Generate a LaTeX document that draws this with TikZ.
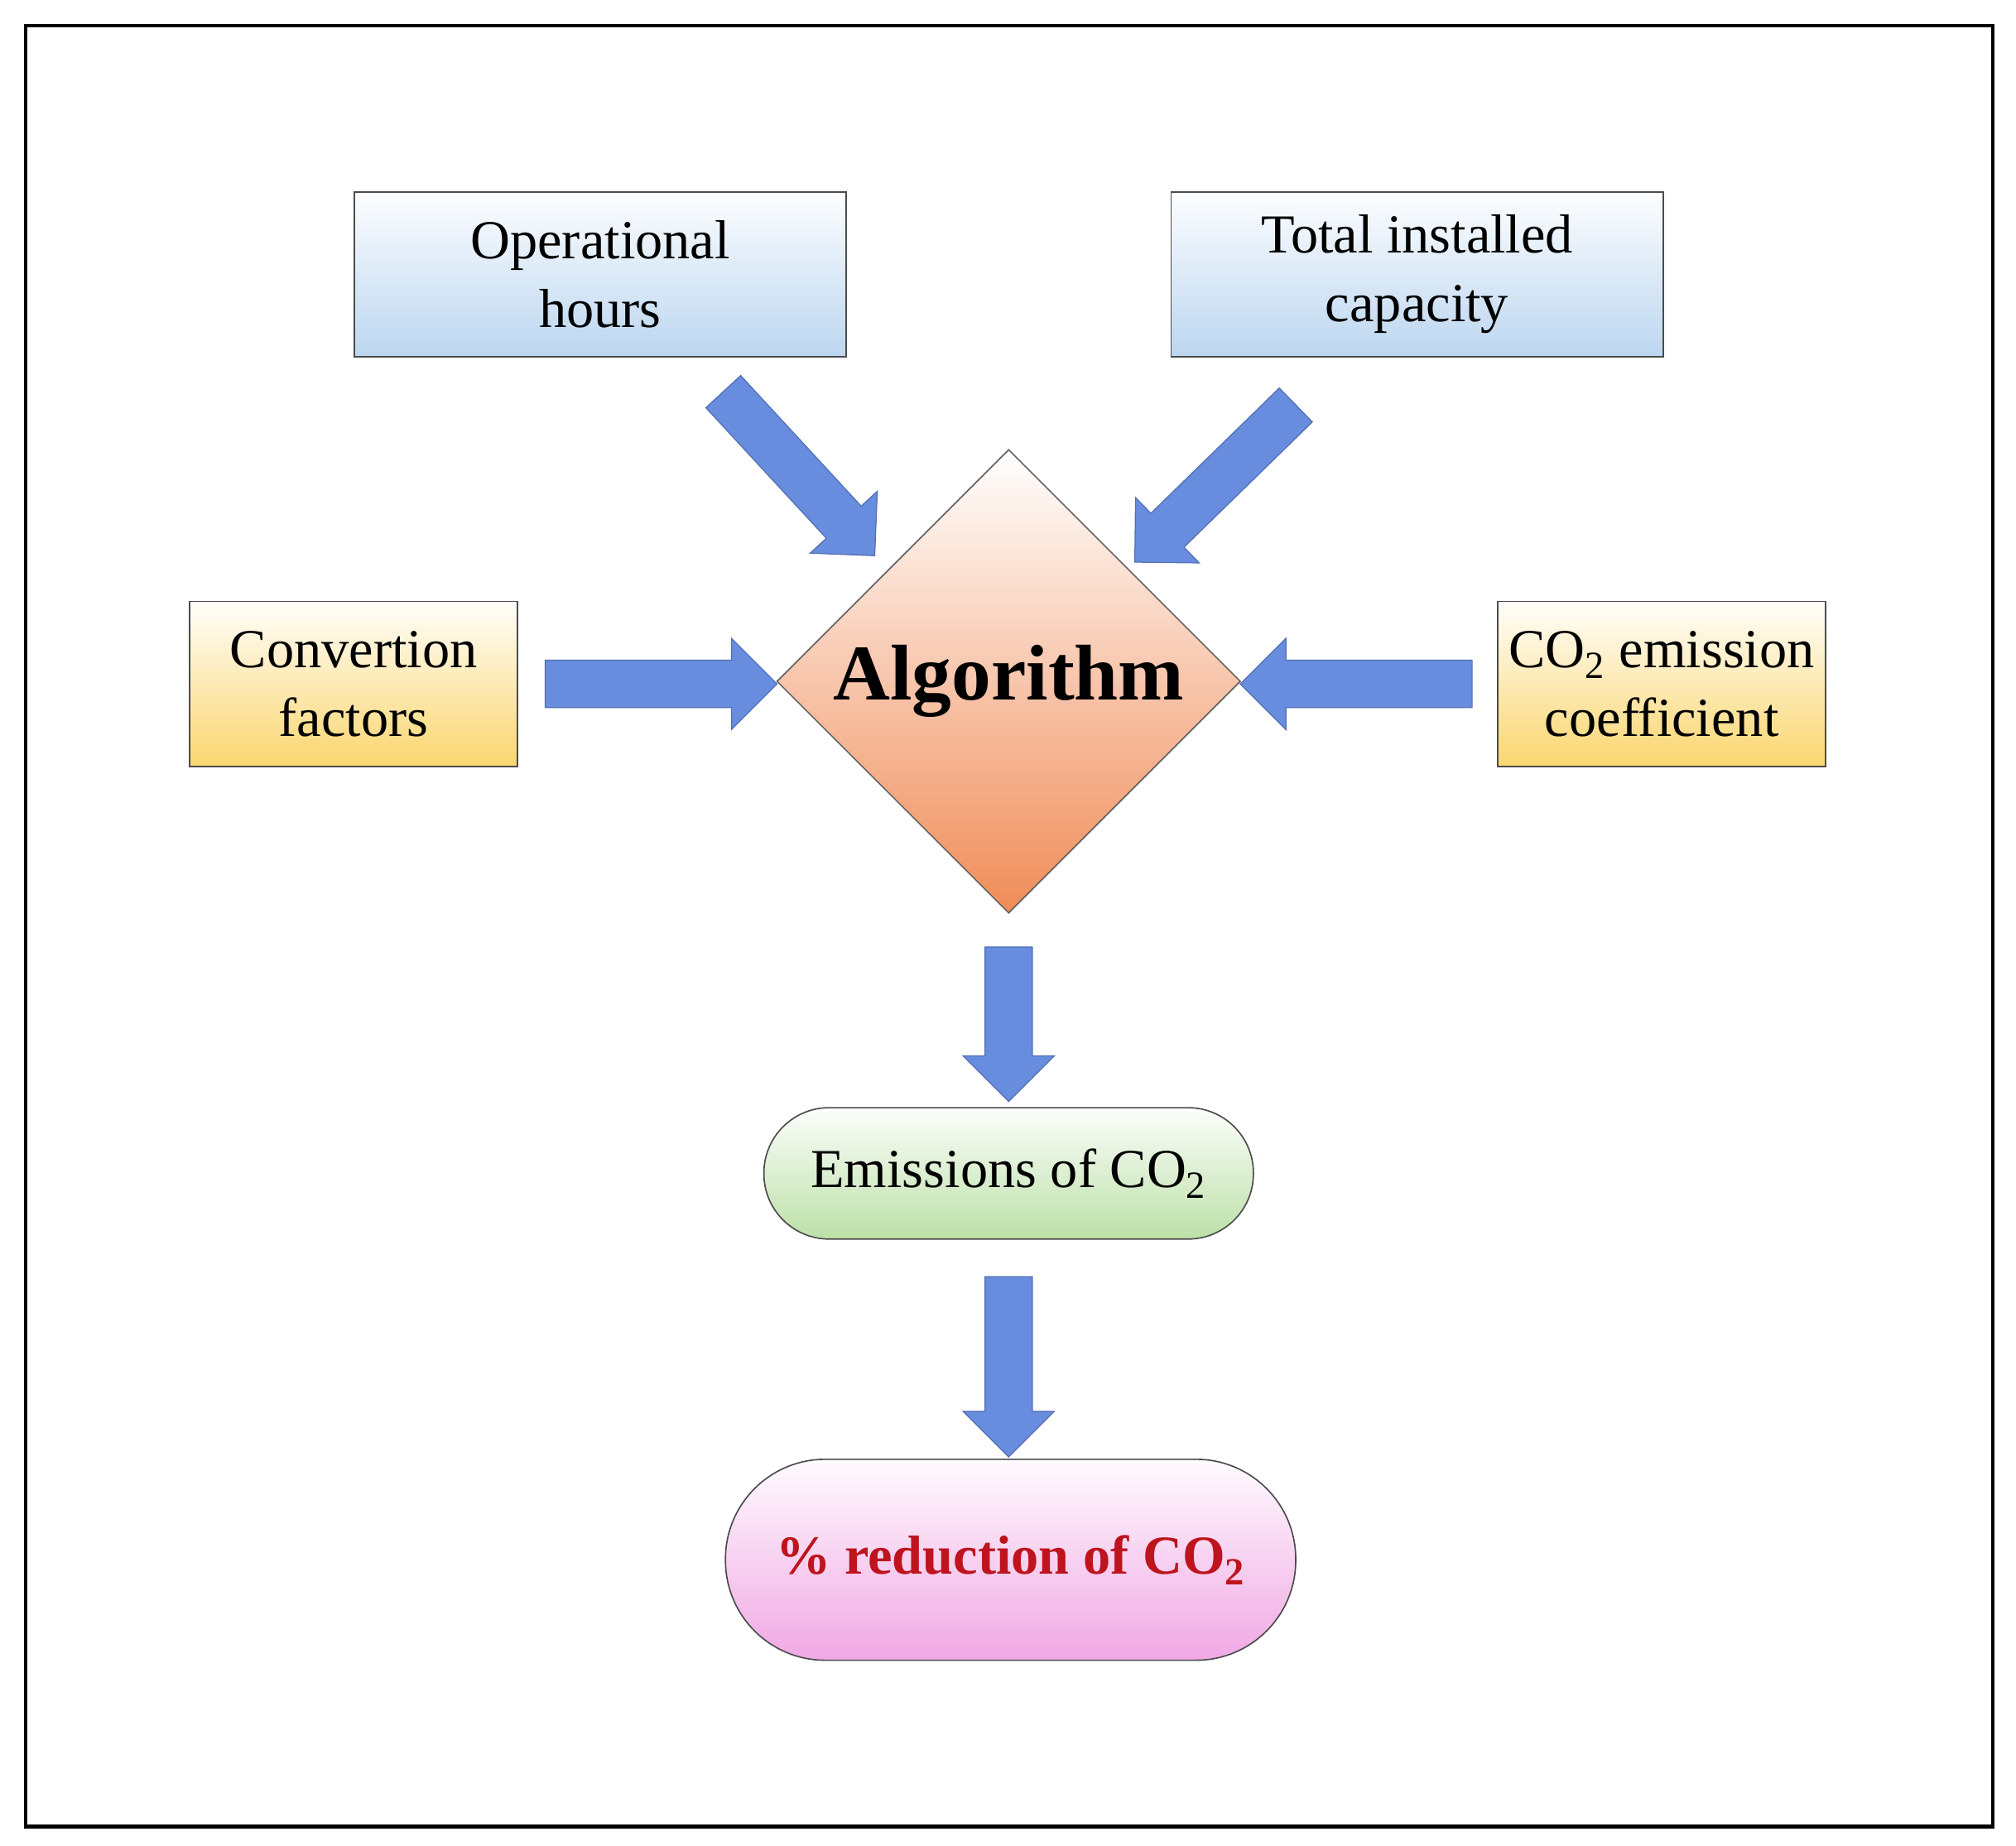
\documentclass[tikz,border=0pt]{standalone}
\usepackage{fontspec}
\setmainfont{Liberation Serif}
\usetikzlibrary{shapes.geometric, shapes.arrows}

\definecolor{arrowblue}{RGB}{104,140,222}
\definecolor{boxblue}{RGB}{188,214,240}
\definecolor{boxyellow}{RGB}{250,214,112}
\definecolor{diaorange}{RGB}{240,140,88}
\definecolor{pillgreen}{RGB}{188,224,168}
\definecolor{pillpink}{RGB}{240,168,228}
\definecolor{textred}{RGB}{190,20,30}

\tikzset{
  inputbox/.style={draw=black!70, line width=0.8pt, align=center, inner sep=0pt,
    minimum height=96pt, font=\fontsize{32}{40}\selectfont},
  bluebox/.style={inputbox, minimum width=286.5pt, top color=white!96!boxblue, bottom color=boxblue},
  yellowbox/.style={inputbox, minimum width=191pt, top color=white!96!boxyellow, bottom color=boxyellow},
  bigarrow/.style={single arrow, draw=arrowblue!80!black, fill=arrowblue, line width=0.6pt,
    inner sep=13.5pt, single arrow head extend=12.75pt, single arrow head indent=0pt},
  pill/.style={draw=black!70, line width=0.8pt, align=center, inner sep=0pt}
}

\begin{document}
\begin{tikzpicture}[x=0.75pt,y=-0.75pt]
\useasboundingbox (0,0) rectangle (1565,1433);
% frame
\draw[line width=2.2pt] (20,20) rectangle (1547,1418);

% inputs
\node[bluebox] (hours) at (466,213) {Operational\\hours};
\node[bluebox] (capacity) at (1100,213) {Total installed\\capacity};
\node[yellowbox] (factors) at (274.5,531) {Convertion\\factors};
\node[yellowbox] (coeff) at (1290,531) {CO\textsubscript{2} emission\\coefficient};

% algorithm
\node[diamond, draw=black!60, line width=0.8pt, minimum width=270pt, minimum height=270pt,
  inner sep=0pt, top color=white, bottom color=diaorange,
  font=\fontsize{46}{50}\selectfont\bfseries] (algo) at (783,529) {Algorithm};

% outputs
\node[pill, minimum width=285pt, minimum height=76.5pt, rounded corners=38pt,
  top color=white!95!pillgreen, bottom color=pillgreen,
  font=\fontsize{32}{40}\selectfont] (emis) at (783,911) {Emissions of CO\textsubscript{2}};
\node[pill, minimum width=332pt, minimum height=117pt, rounded corners=58pt,
  top color=white!95!pillpink, bottom color=pillpink, text=textred,
  font=\fontsize{32}{40}\selectfont\bfseries] (reduc) at (784.5,1211) {\% reduction of CO\textsubscript{2}};

% arrows
\node[bigarrow, minimum height=130pt, rotate=-47.3] (a1) at (614,361) {};
\node[bigarrow, minimum height=131pt, rotate=224.3] (a2) at (950,369) {};
\node[bigarrow, minimum height=135pt] (a3) at (504,531) {};
\node[bigarrow, minimum height=135pt, rotate=180] (a4) at (1062,531) {};
\node[bigarrow, minimum height=90pt, rotate=-90] (a5) at (783,786) {};
\node[bigarrow, minimum height=105pt, rotate=-90] (a6) at (783,1052) {};
\end{tikzpicture}
\end{document}
